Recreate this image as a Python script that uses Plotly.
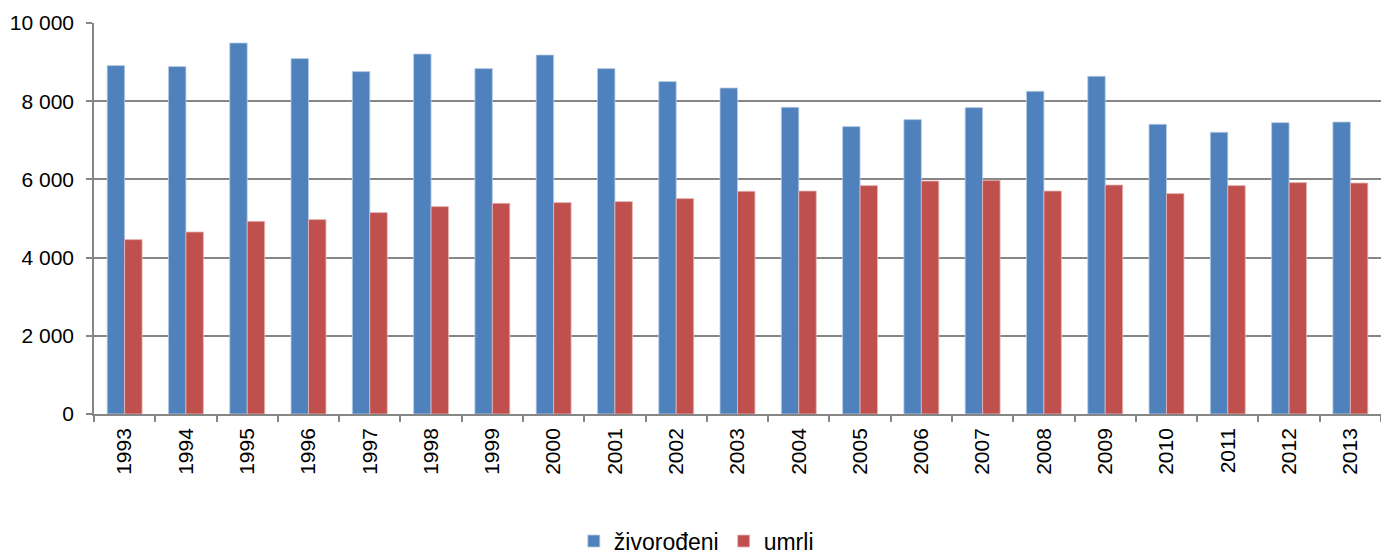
import plotly.graph_objects as go

years = ["1993","1994","1995","1996","1997","1998","1999","2000","2001","2002","2003",
         "2004","2005","2006","2007","2008","2009","2010","2011","2012","2013"]
zivorodeni = [8910, 8885, 9489, 9090, 8757, 9207, 8834, 9182, 8834, 8501, 8338,
              7844, 7350, 7529, 7836, 8253, 8637, 7409, 7205, 7452, 7468]
umrli = [4460, 4655, 4928, 4972, 5151, 5304, 5389, 5407, 5432, 5509, 5696,
         5703, 5841, 5959, 5977, 5703, 5857, 5637, 5841, 5918, 5908]

y_ticks = [0, 2000, 4000, 6000, 8000, 10000]
y_labels = ["0", "2 000", "4 000", "6 000", "8 000", "10 000"]

fig = go.Figure()
fig.add_trace(go.Bar(x=years, y=zivorodeni, name="živorođeni",
                     marker=dict(color="#4F81BD", line=dict(color="#B9CDE5", width=0.8))))
fig.add_trace(go.Bar(x=years, y=umrli, name="umrli",
                     marker=dict(color="#C0504D", line=dict(color="#E6B9B8", width=0.8))))

fig.update_layout(
    width=1381, height=554,
    margin=dict(l=94, r=0, t=23, b=140, autoexpand=False),
    paper_bgcolor="white", plot_bgcolor="white",
    barmode="group", bargap=0.43, bargroupgap=0,
    font=dict(family="Liberation Sans, Arial, sans-serif", size=21, color="#000000"),
    showlegend=True,
    legend=dict(orientation="h", x=0.468, xanchor="center", y=-0.325, yanchor="middle",
                font=dict(size=23), itemwidth=30, traceorder="normal"),
)
fig.update_xaxes(
    type="category", tickangle=-90, tickson="boundaries", automargin=False,
    ticks="outside", ticklen=6, tickcolor="#868686", tickwidth=1.5,
    showline=True, linecolor="#868686", linewidth=1.5,
    showgrid=False, tickfont=dict(size=21), ticklabelstandoff=4,
)
fig.update_yaxes(
    range=[0, 10000], tickvals=y_ticks, ticktext=y_labels, automargin=False,
    ticks="outside", ticklen=6, tickcolor="#868686", tickwidth=1.5,
    showline=True, linecolor="#868686", linewidth=1.5,
    showgrid=True, gridcolor="#868686", gridwidth=1.5,
    zeroline=False, tickfont=dict(size=21), ticklabelstandoff=8,
)
fig.write_html("out.html", config={"displayModeBar": False},
               post_script="document.body.style.margin='0px';")
